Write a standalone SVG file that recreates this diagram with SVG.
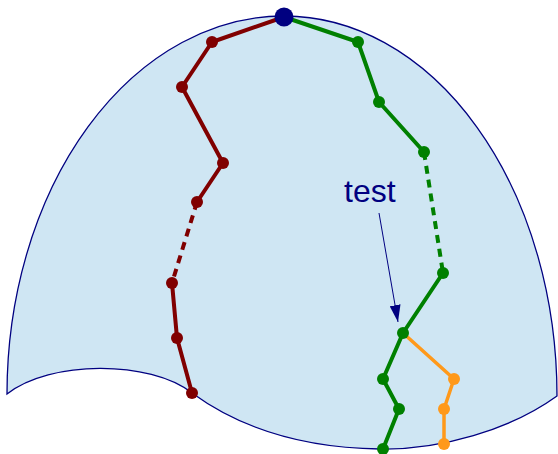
<svg xmlns="http://www.w3.org/2000/svg" width="558" height="454" viewBox="0 0 558 454">
<defs>
<style>
.dome{fill:#cfe6f3;stroke:#000080;stroke-width:1.3}
.red{fill:none;stroke:#800000;stroke-width:4;stroke-linejoin:round}
.green{fill:none;stroke:#008000;stroke-width:4;stroke-linejoin:round}
.orange{fill:none;stroke:#ff991a;stroke-width:3.5;stroke-linejoin:round}
.dash{stroke-dasharray:8,6}
.rd{fill:#800000}
.gd{fill:#008000}
.od{fill:#ff991a}
.lbl{font-family:"Liberation Sans",Arial,sans-serif;font-size:32px;fill:#000080}
.arr{stroke:#000080;stroke-width:1;fill:none}
</style>
<marker id="ah" markerUnits="userSpaceOnUse" markerWidth="17" markerHeight="11" refX="17" refY="5.5" orient="auto">
<path d="M0,0 L17,5.5 L0,11 z" fill="#000080"/>
</marker>
</defs>
<g id="dome">
<path class="dome" d="M7,394 A277,378 0 0 1 284,16 A273,380 0 0 1 557,396 C510,430 440,450 380,449 C300,448 240,428 192,393 C150,360 50,360 7,394 Z"/>
</g>
<g id="connectors">
<polyline class="red" points="284,17 212,42 182,87 223,163 197,202"/>
<line class="red dash" x1="197" y1="202" x2="172" y2="283"/>
<polyline class="red" points="172,283 177,338 192,393"/>
<polyline class="green" points="284,17 358,42 379,102 424,152"/>
<line class="green dash" x1="424" y1="152" x2="443" y2="273"/>
<polyline class="green" points="443,273 403,333 383,379 399,409 383,449"/>
<polyline class="orange" points="403,333 454,379 444,409 444,444"/>
<line class="arr" x1="379" y1="213" x2="398" y2="322" marker-end="url(#ah)"/>
</g>
<g id="nodes">
<g id="r1"><circle class="rd" cx="212" cy="42" r="6"/></g>
<g id="r2"><circle class="rd" cx="182" cy="87" r="6"/></g>
<g id="r3"><circle class="rd" cx="223" cy="163" r="6"/></g>
<g id="r4"><circle class="rd" cx="197" cy="202" r="6"/></g>
<g id="r5"><circle class="rd" cx="172" cy="283" r="6"/></g>
<g id="r6"><circle class="rd" cx="177" cy="338" r="6"/></g>
<g id="r7"><circle class="rd" cx="192" cy="393" r="6"/></g>
<g id="g1"><circle class="gd" cx="358" cy="42" r="6"/></g>
<g id="g2"><circle class="gd" cx="379" cy="102" r="6"/></g>
<g id="g3"><circle class="gd" cx="424" cy="152" r="6"/></g>
<g id="g4"><circle class="gd" cx="443" cy="273" r="6"/></g>
<g id="g5"><circle class="gd" cx="403" cy="333" r="6"/></g>
<g id="g6"><circle class="gd" cx="383" cy="379" r="6"/></g>
<g id="g7"><circle class="gd" cx="399" cy="409" r="6"/></g>
<g id="g8"><circle class="gd" cx="383" cy="449" r="6"/></g>
<g id="o1"><circle class="od" cx="454" cy="379" r="6"/></g>
<g id="o2"><circle class="od" cx="444" cy="409" r="6"/></g>
<g id="o3"><circle class="od" cx="444" cy="444" r="6"/></g>
<g id="top"><circle fill="#000080" cx="284" cy="17" r="9.5"/></g>
<g id="label"><text class="lbl" x="344" y="202">test</text></g>
</g>
</svg>
